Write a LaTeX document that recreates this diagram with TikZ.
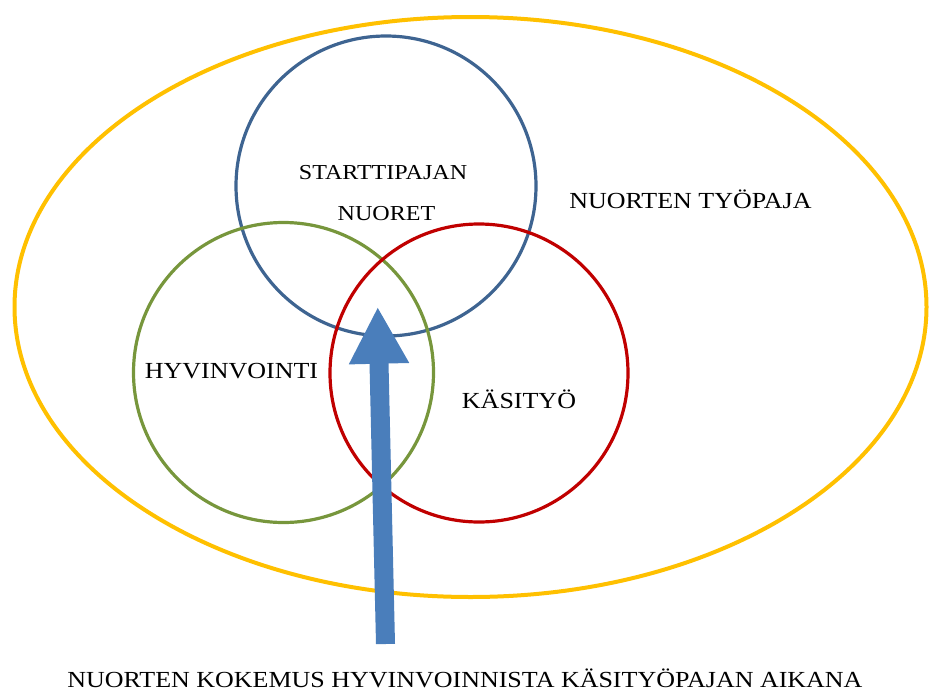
\documentclass[tikz,border=0pt]{standalone}
\usepackage{fontspec}
\setmainfont{Liberation Serif}[FakeStretch=1.13]
\usetikzlibrary{shapes.geometric,arrows.meta}
\definecolor{ringyellow}{HTML}{FFC000}
\definecolor{ringblue}{HTML}{3E6491}
\definecolor{ringgreen}{HTML}{77963C}
\definecolor{ringred}{HTML}{C00000}
\definecolor{arrowblue}{HTML}{4A7EBB}
\tikzset{
  ring/.style={circle, draw, line width=3.2pt, minimum size=300pt, inner sep=0pt},
  lbl/.style={anchor=base, inner sep=0pt, font=\fontsize{23}{27}\selectfont},
  smalllbl/.style={anchor=base, inner sep=0pt, font=\fontsize{21.3}{25}\selectfont},
}
\begin{document}
\begin{tikzpicture}[x=1pt,y=-1pt]
\useasboundingbox (0,0) rectangle (929,691);
\node[ellipse, draw=ringyellow, line width=4pt, minimum width=912pt, minimum height=580pt, inner sep=0pt] (workshop) at (470.5,307) {};
\node[ring, draw=ringblue] (starters) at (386,186) {};
\node[ring, draw=ringgreen] (wellbeing) at (283.5,372.5) {};
\node[ring, draw=ringred, minimum size=298pt] (crafts) at (479,373) {};
\coordinate (tail) at (385.5,644);
\coordinate (tip) at (377.7,306.7);
\draw[arrowblue, line width=19pt, -{Triangle[width=56pt,length=57pt]}] (tail) -- (tip);
\node[smalllbl] (t1) at (383,179) {STARTTIPAJAN};
\node[smalllbl] (t2) at (386.5,220) {NUORET};
\node[lbl] (t3) at (690.5,208) {NUORTEN TYÖPAJA};
\node[lbl] (t4) at (231.5,378) {HYVINVOINTI};
\node[lbl] (t5) at (519,408) {KÄSITYÖ};
\node[lbl] (t6) at (465,687) {NUORTEN KOKEMUS HYVINVOINNISTA KÄSITYÖPAJAN AIKANA};
\end{tikzpicture}
\end{document}
